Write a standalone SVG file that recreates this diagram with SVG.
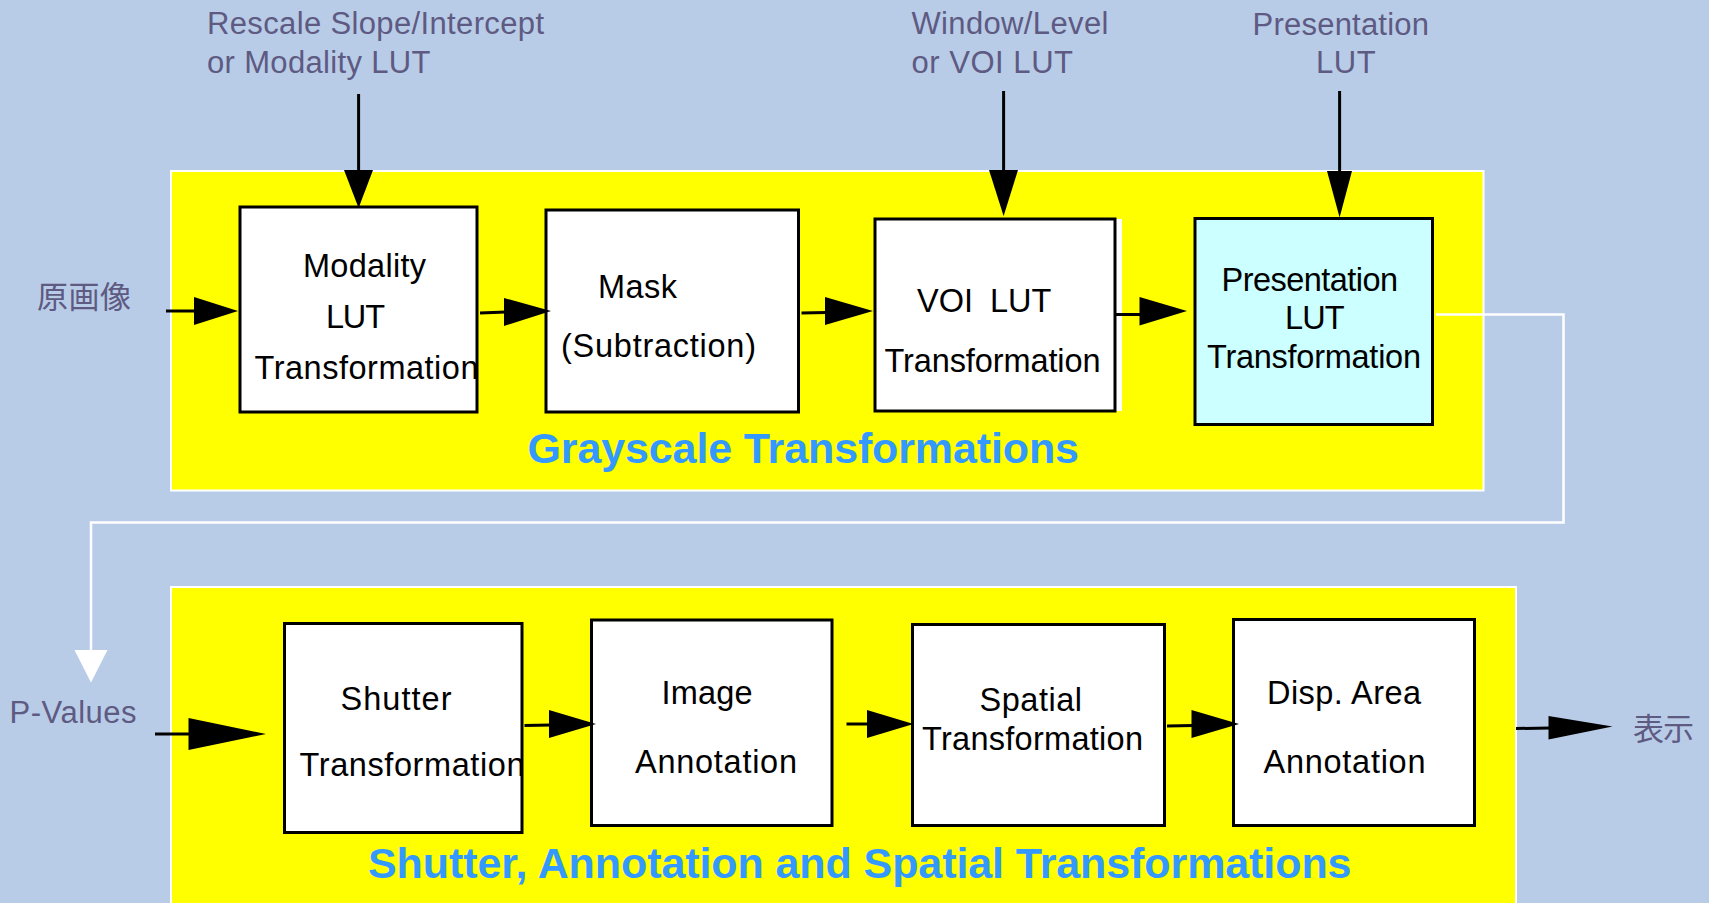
<svg xmlns="http://www.w3.org/2000/svg" width="1709" height="903" viewBox="0 0 1709 903">
<style>
.lbl{font-family:"Liberation Sans",Arial,sans-serif;font-size:31px;fill:#5e5a82}
.cjk{font-family:"Liberation Sans","Noto Sans CJK JP",sans-serif;font-size:31px;fill:#5e5a82}
.bt{font-family:"Liberation Sans",Arial,sans-serif;font-size:32.5px;fill:#000}
.title{font-family:"Liberation Sans",Arial,sans-serif;font-size:43px;font-weight:bold;fill:#3399ff}
.box{fill:#fff;stroke:#000;stroke-width:3}
.grp{fill:#ffff00;stroke:#fff;stroke-width:2}
.ln{stroke:#000;stroke-width:3;fill:none}
.ah{fill:#000}
</style>
<rect x="0" y="0" width="1709" height="903" fill="#b8cce8"/>
<g id="grayscale-group">
<rect class="grp" x="171" y="171" width="1312.5" height="319.5"/>
<text class="title" x="527.5" y="463" textLength="551.5">Grayscale Transformations</text>
</g>
<g id="spatial-group">
<rect class="grp" x="171" y="587" width="1345" height="330"/>
<text class="title" x="368" y="877.5" textLength="983.5">Shutter, Annotation and Spatial Transformations</text>
</g>
<g id="label-rescale"><text class="lbl" x="207" y="34" textLength="337">Rescale Slope/Intercept</text><text class="lbl" x="207" y="73" textLength="223.5">or Modality LUT</text></g>
<g id="label-window"><text class="lbl" x="911.4" y="34" textLength="197">Window/Level</text><text class="lbl" x="911.4" y="73" textLength="161.6">or VOI LUT</text></g>
<g id="label-presentation"><text class="lbl" x="1252.6" y="35" textLength="176.4">Presentation</text><text class="lbl" x="1316" y="73" textLength="59.7">LUT</text></g>
<g id="label-original"><text class="cjk" x="37" y="308" textLength="94">原画像</text></g>
<g id="label-pvalues"><text class="lbl" x="9.5" y="723" textLength="127">P-Values</text></g>
<g id="label-display"><text class="cjk" x="1633" y="740" textLength="61">表示</text></g>
<g id="modality">
<rect class="box" x="240" y="207" width="237" height="205"/>
<text class="bt" x="303" y="277" textLength="123">Modality</text>
<text class="bt" x="326" y="328" textLength="59">LUT</text>
<text class="bt" x="254.5" y="379" textLength="224">Transformation</text>
</g>
<g id="mask">
<rect class="box" x="546" y="210" width="252.5" height="202"/>
<text class="bt" x="598" y="298" textLength="79">Mask</text>
<text class="bt" x="561" y="357" textLength="195">(Subtraction)</text>
</g>
<g id="voi">
<rect x="875" y="219" width="247" height="192" fill="#fff"/>
<rect class="box" x="875" y="219" width="240" height="192"/>
<text class="bt" x="917" y="312">VOI<tspan x="990">LUT</tspan></text>
<text class="bt" x="884.5" y="372" textLength="216">Transformation</text>
</g>
<g id="presentation">
<rect class="box" x="1195" y="218.5" width="237.5" height="206" style="fill:#ccffff"/>
<text class="bt" x="1221.5" y="291" textLength="176.5">Presentation</text>
<text class="bt" x="1285" y="328.5" textLength="59.7">LUT</text>
<text class="bt" x="1207" y="367.5" textLength="214">Transformation</text>
</g>
<g id="shutter">
<rect class="box" x="284.5" y="623.5" width="237.5" height="209"/>
<text class="bt" x="340.5" y="710" textLength="111">Shutter</text>
<text class="bt" x="299.5" y="775.5" textLength="225">Transformation</text>
</g>
<g id="image">
<rect class="box" x="591.5" y="620" width="240.5" height="205.5"/>
<text class="bt" x="661.5" y="704" textLength="91">Image</text>
<text class="bt" x="635" y="772.5" textLength="162">Annotation</text>
</g>
<g id="spatial">
<rect class="box" x="912.5" y="624.5" width="252" height="201"/>
<text class="bt" x="979.5" y="710.5" textLength="102.5">Spatial</text>
<text class="bt" x="922" y="750" textLength="221">Transformation</text>
</g>
<g id="disp">
<rect class="box" x="1233.5" y="619.5" width="241" height="206"/>
<text class="bt" x="1267" y="703.5" textLength="154">Disp. Area</text>
<text class="bt" x="1263.5" y="772.5" textLength="162">Annotation</text>
</g>
<g id="connectors">
<line class="ln" x1="358.6" y1="94" x2="358.6" y2="172"/><polygon class="ah" points="344,170 373,170 358.6,208"/>
<line class="ln" x1="1003.6" y1="91" x2="1003.6" y2="172"/><polygon class="ah" points="989,170 1018,170 1003.6,216"/>
<line class="ln" x1="1339.6" y1="91" x2="1339.6" y2="173"/><polygon class="ah" points="1327,171 1352,171 1339.6,217.5"/>
<line class="ln" x1="166" y1="311" x2="196" y2="311"/><polygon class="ah" points="194,297 194,325 238,311"/>
<line class="ln" x1="480" y1="313" x2="506" y2="312"/><polygon class="ah" points="504,298 504,326 551,311"/>
<line class="ln" x1="801.5" y1="313" x2="827" y2="312.5"/><polygon class="ah" points="825,297 825,325 873,311"/>
<line class="ln" x1="1115" y1="314.5" x2="1141" y2="314.5"/><polygon class="ah" points="1139.5,297 1139.5,325.5 1187,311"/>
<polyline points="1436,314.5 1563.5,314.5 1563.5,522.5 91,522.5 91,652" fill="none" stroke="#fff" stroke-width="2.5"/>
<polygon points="74.5,650 107.5,650 91,682.5" fill="#fff"/>
<line class="ln" x1="155" y1="734" x2="190" y2="734"/><polygon class="ah" points="188.5,718 188.5,750 266,734"/>
<line class="ln" x1="524.5" y1="725.5" x2="551" y2="725"/><polygon class="ah" points="549,710 549,738 596,724"/>
<line class="ln" x1="846.5" y1="724" x2="869" y2="724"/><polygon class="ah" points="867,710 867,738 913.5,724"/>
<line class="ln" x1="1167" y1="726" x2="1193" y2="725.5"/><polygon class="ah" points="1191.5,710 1191.5,738 1239,724"/>
<line class="ln" x1="1516" y1="728.5" x2="1550" y2="728"/><polygon class="ah" points="1548.5,716 1548.5,739.5 1612.5,726.5"/>
</g>
</svg>
